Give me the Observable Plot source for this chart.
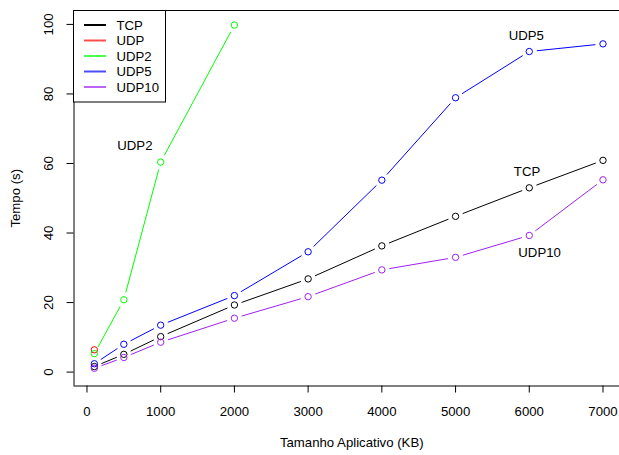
<!DOCTYPE html>
<html>
<head>
<meta charset="utf-8">
<script src="https://cdn.jsdelivr.net/npm/d3@7"></script>
<script src="https://cdn.jsdelivr.net/npm/@observablehq/plot@0.6"></script>
<style>
  html, body { margin: 0; padding: 0; background: #fff; }
  #chart { width: 619px; height: 455px; }
</style>
</head>
<body>
<div id="chart"></div>
<script>
// ---- data ----
const sizes = [100, 500, 1000, 2000, 3000, 4000, 5000, 6000, 7000];
const tcp   = [1.6, 5.1, 10.2, 19.3, 26.8, 36.3, 44.8, 53.0, 60.9];
const udp   = [6.4];
const udp2  = [5.3, 20.8, 60.4, 99.8];
const udp5  = [2.4, 8.0, 13.5, 22.0, 34.6, 55.2, 78.9, 92.2, 94.4];
const udp10 = [1.1, 4.2, 8.6, 15.5, 21.7, 29.4, 33.0, 39.3, 55.3];

const seriesNames  = ["TCP", "UDP", "UDP2", "UDP5", "UDP10"];
const seriesValues = [tcp, udp, udp2, udp5, udp10];
const seriesColors = ["#000000", "#FF0000", "#00FF00", "#0000FF", "#A020F0"];

const xTicks = [0, 1000, 2000, 3000, 4000, 5000, 6000, 7000];
const yTicks = [0, 20, 40, 60, 80, 100];

const labelNames = ["UDP2", "UDP5", "TCP", "UDP10"];
const labelX = [650, 5960, 5970, 6140];
const labelY = [65.2, 96.8, 57.7, 34.3];

const xTitle = "Tamanho Aplicativo (KB)";
const yTitle = "Tempo (s)";

// ---- derived tables ----
const points = [];
const segments = [];
seriesNames.forEach((name, i) => {
  const vals = seriesValues[i];
  vals.forEach((v, j) => {
    points.push({series: name, x: sizes[j], y: v});
    if (j > 0) segments.push({series: name, x1: sizes[j - 1], y1: vals[j - 1], x2: sizes[j], y2: v});
  });
});
const labels = labelNames.map((t, i) => ({text: t, x: labelX[i], y: labelY[i]}));

const xDomain = [-176, 7224];
const yDomain = [-4, 104];
const FONT = "'Liberation Sans', Arial, sans-serif";

const chart = Plot.plot({
  width: 619,
  height: 455,
  marginLeft: 73.5,
  marginRight: 0,
  marginTop: 10,
  marginBottom: 69.5,
  style: {fontFamily: FONT, fontSize: "13.2px", background: "#fff", color: "#000"},
  x: {domain: xDomain, axis: null},
  y: {domain: yDomain, axis: null},
  color: {domain: seriesNames, range: seriesColors},
  marks: [
    Plot.ruleX([xDomain[0]], {stroke: "#000", strokeWidth: 1}),
    Plot.ruleY([yDomain[0], yDomain[1]], {stroke: "#000", strokeWidth: 1}),
    Plot.axisX(xTicks, {tickSize: 7, tickPadding: 14, label: null, stroke: "#000", tickFormat: d => `${d}`}),
    Plot.axisY(yTicks, {tickSize: 7, tickFormat: () => "", label: null, stroke: "#000"}),
    Plot.text(yTicks, {y: d => d, text: d => `${d}`, frameAnchor: "left", dx: -25.5, rotate: -90, fill: "#000", textAnchor: "middle", lineAnchor: "middle"}),
    Plot.text([xTitle], {text: d => d, frameAnchor: "bottom", dy: 56.5, dx: 5, fill: "#000", textAnchor: "middle", lineAnchor: "middle"}),
    Plot.text([yTitle], {text: d => d, frameAnchor: "left", dx: -58.5, rotate: -90, fill: "#000", textAnchor: "middle", lineAnchor: "middle"}),
    Plot.arrow(segments, {x1: "x1", y1: "y1", x2: "x2", y2: "y2", stroke: "series", strokeWidth: 1, headLength: 0, insetStart: 8, insetEnd: 8}),
    Plot.dot(points, {x: "x", y: "y", stroke: "series", r: 3.2, fill: "none", strokeWidth: 1}),
    Plot.text(labels, {x: "x", y: "y", text: "text", fill: "#000", lineAnchor: "middle"})
  ]
});

document.getElementById("chart").appendChild(chart);

// ---- legend (inside plot, top-left) ----
const svg = d3.select(chart);
const lg = svg.append("g").attr("class", "legend")
  .attr("font-family", FONT).attr("font-size", "13.2px").attr("text-anchor", "start");
lg.append("rect")
  .attr("x", 73.5).attr("y", 10.5).attr("width", 92).attr("height", 91.5)
  .attr("fill", "#fff").attr("stroke", "#000").attr("stroke-width", 1);
seriesNames.forEach((name, i) => {
  const cy = 25 + i * 15.5;
  lg.append("line")
    .attr("x1", 84).attr("x2", 106).attr("y1", cy).attr("y2", cy)
    .style("stroke", seriesColors[i])
    .style("stroke-width", 2)
    .style("stroke-opacity", i === 0 ? 1 : 0.7);
  lg.append("text")
    .attr("x", 116.5).attr("y", cy).attr("dy", "0.35em")
    .attr("text-anchor", "start")
    .attr("fill", "#000")
    .text(name);
});
</script>
</body>
</html>
